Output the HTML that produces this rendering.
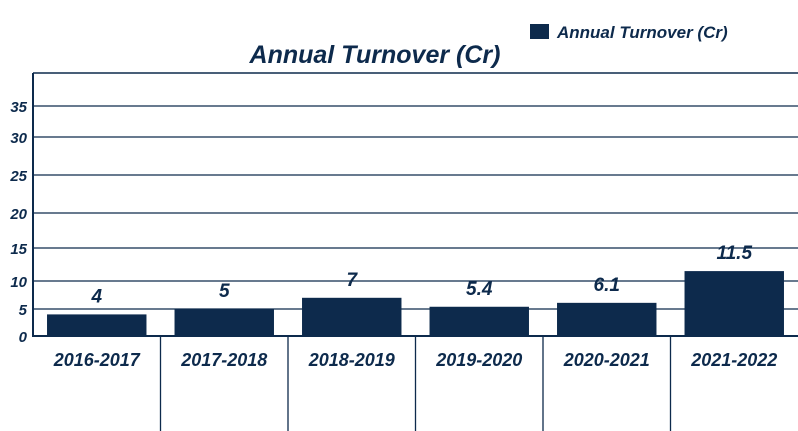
<!DOCTYPE html>
<html><head><meta charset="utf-8">
<style>
body{margin:0;background:#fff;}
svg{display:block;font-family:"Liberation Sans",Arial,sans-serif;font-style:italic;font-weight:bold;}
</style></head>
<body>
<svg id="chart" width="798" height="431" viewBox="0 0 798 431" xmlns="http://www.w3.org/2000/svg">
<text x="375" y="63" text-anchor="middle" font-size="25" fill="#0d2a4c">Annual Turnover (Cr)</text>
<g>
<rect x="530" y="24" width="19" height="15" fill="#0d2a4c"/>
<text x="557" y="38" font-size="17" fill="#0d2a4c">Annual Turnover (Cr)</text>
</g>
<line x1="33" y1="73" x2="798" y2="73" stroke="#0d2a4c" stroke-width="1.5"/>
<line x1="33" y1="73" x2="33" y2="337" stroke="#0d2a4c" stroke-width="2"/>
<g id="grid"></g><g id="bars"></g><g id="labels"></g>
</svg>
<script>
const categories=["2016-2017","2017-2018","2018-2019","2019-2020","2020-2021","2021-2022"];
const values=[4,5,7,5.4,6.1,11.5];
const valueLabels=["4","5","7","5.4","6.1","11.5"];
const yTicks=[0,5,10,15,20,25,30,35];
const yTickPix=[336,309,281,248,213,175,137,106];
const NS="http://www.w3.org/2000/svg";
const C="#0d2a4c";
function y(v){
  for(let i=0;i<yTicks.length-1;i++){
    if(v<=yTicks[i+1]){const t=(v-yTicks[i])/(yTicks[i+1]-yTicks[i]);return yTickPix[i]+t*(yTickPix[i+1]-yTickPix[i]);}
  }
  return yTickPix[yTickPix.length-1];
}
const x0=33,x1=798,bw=(x1-x0)/categories.length;
function x(i){return x0+i*bw;}
function mk(tag,attrs,parent){const e=document.createElementNS(NS,tag);for(const k in attrs)e.setAttribute(k,attrs[k]);document.getElementById(parent).appendChild(e);return e;}
yTicks.forEach((t,i)=>{
  const l=mk("line",{x1:33,x2:798,y1:y(t),y2:y(t),stroke:C,"stroke-width":t===0?2:1.3},"grid");
  
  
  const tx=mk("text",{x:27,y:y(t)+6,"text-anchor":"end","font-size":15,fill:C},"grid");
  tx.textContent=t;
  
  
});
for(let i=1;i<categories.length;i++){
  const d=mk("line",{x1:x(i),x2:x(i),y1:336,y2:431,stroke:C,"stroke-width":1.3},"grid");
  
  
}
categories.forEach((c,i)=>{
  const cx=x(i)+bw/2,w=bw*0.78;
  const r=mk("rect",{x:cx-w/2,y:y(values[i]),width:w,height:336-y(values[i]),fill:C},"bars");
  
  
  const vl=mk("text",{x:cx,y:y(values[i])-12,"text-anchor":"middle","font-size":19,fill:C},"labels");
  vl.textContent=valueLabels[i];
  
  
  const cl=mk("text",{x:cx,y:366,"text-anchor":"middle","font-size":18,fill:C},"labels");
  cl.textContent=c;
  
  
});
</script>
</body></html>
